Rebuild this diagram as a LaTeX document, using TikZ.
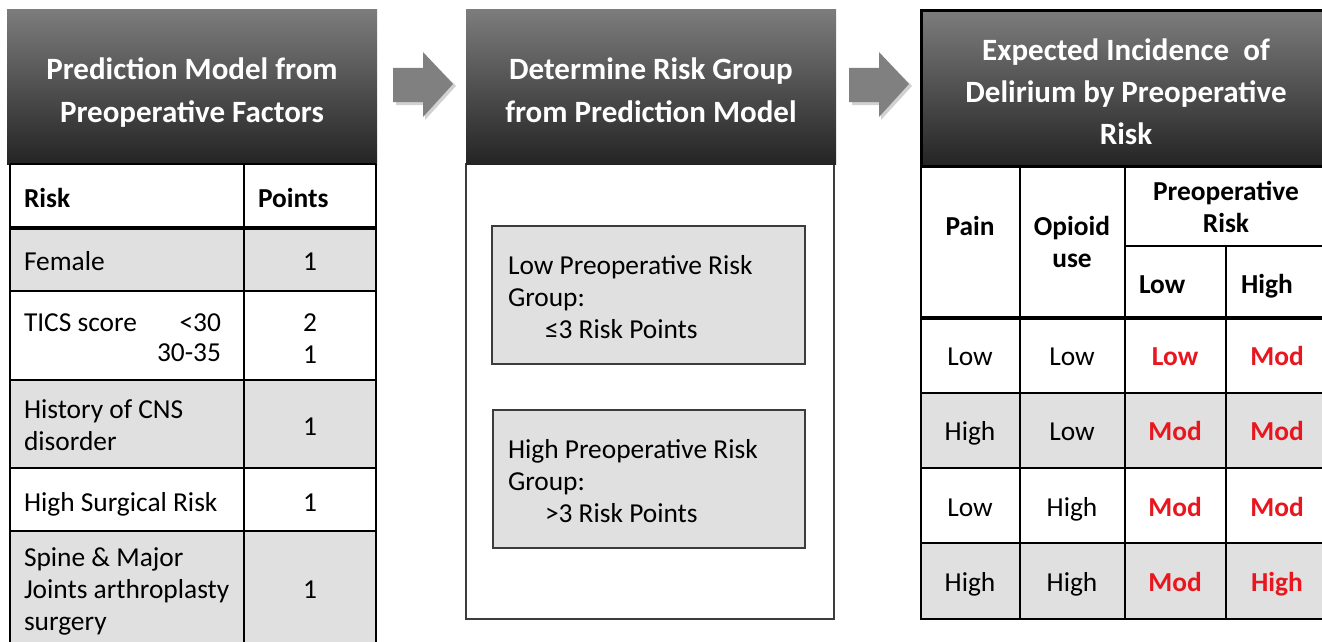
\documentclass[tikz,border=0pt]{standalone}
\usepackage{fontspec}
\setmainfont{Carlito}
\definecolor{hdtop}{RGB}{124,124,124}
\definecolor{hdbot}{RGB}{36,36,36}
\definecolor{cellgray}{RGB}{224,224,224}
\definecolor{riskred}{RGB}{232,22,30}
\definecolor{arrowgray}{RGB}{128,128,128}
\definecolor{boxline}{RGB}{60,60,60}
\newcommand\mytl[1]{\begin{tabular}[t]{@{}l@{}}#1\end{tabular}}
\newcommand\mytc[1]{\begin{tabular}[t]{@{}c@{}}#1\end{tabular}}
\begin{document}
\begin{tikzpicture}[x=1pt,y=-1pt,
  txt/.style={inner sep=0pt, outer sep=0pt, font=\fontsize{27.4}{32}\selectfont},
  btxt/.style={inner sep=0pt, outer sep=0pt, font=\fontsize{27.4}{32}\selectfont\bfseries},
  rtxt/.style={inner sep=0pt, outer sep=0pt, text=riskred, font=\fontsize{27.4}{32}\selectfont\bfseries},
  htxt/.style={inner sep=0pt, outer sep=0pt, text=white, font=\fontsize{31}{42.5}\selectfont\bfseries},
  hdrbox/.style={rectangle, inner sep=0pt, outer sep=0pt, top color=hdtop, bottom color=hdbot, draw=none},
  grpbox/.style={rectangle, inner sep=0pt, outer sep=0pt, fill=cellgray, draw=boxline, line width=1.5pt},
  gridline/.style={line width=2pt, black},
  thickline/.style={line width=4pt, black},
  flowarrow/.style={fill=arrowgray},
  arrowshadow/.style={fill=black, opacity=0.18},
]
\useasboundingbox (0,0) rectangle (1322,642);
\clip (0,0) rectangle (1322,642);
\fill[white] (0,0) rectangle (1322,642);

% ---------------- left panel ----------------
\node[hdrbox, minimum width=370pt, minimum height=154pt, anchor=north west] (hdrA) at (7,10) {};
\node[htxt, anchor=base] (hdrAtext) at (192,80) {\mytc{Prediction Model from\\Preoperative Factors}};

\fill[cellgray] (10,228) rectangle (376,291);
\fill[cellgray] (10,380) rectangle (376,468);
\fill[cellgray] (10,531) rectangle (376,660);
\draw[gridline] (10,164) -- (10,660);
\draw[gridline] (244,164) -- (244,660);
\draw[gridline] (376,164) -- (376,660);
\draw[gridline] (10,164) -- (376,164);
\draw[thickline] (10,228) -- (376,228);
\draw[gridline] (10,291) -- (376,291);
\draw[gridline] (10,380) -- (376,380);
\draw[gridline] (10,468) -- (376,468);
\draw[gridline] (10,531) -- (376,531);

\node[btxt, anchor=base west] (riskH) at (24,207) {Risk};
\node[btxt, anchor=base west] (pointsH) at (258,207) {Points};
\node[txt, anchor=base west] (female) at (24,270) {Female};
\node[txt, anchor=base] (femaleP) at (310,270) {1};
\node[txt, anchor=base west] (tics) at (24,331) {TICS score};
\node[txt, anchor=base east] (ticsA) at (221,331) {<30};
\node[txt, anchor=base east] (ticsB) at (221,361) {30-35};
\node[txt, anchor=base] (ticsP) at (310,331) {\mytc{2\\1}};
\node[txt, anchor=base west] (cns) at (24,418) {\mytl{History of CNS\\disorder}};
\node[txt, anchor=base] (cnsP) at (310,435) {1};
\node[txt, anchor=base west] (surg) at (24,511) {High Surgical Risk};
\node[txt, anchor=base] (surgP) at (310,511) {1};
\node[txt, anchor=base west] (spine) at (24,566) {\mytl{Spine \& Major\\Joints arthroplasty\\surgery}};
\node[txt, anchor=base] (spineP) at (310,598) {1};

% ---------------- arrows ----------------
\fill[arrowshadow] (396,71) -- (425,71) -- (425,55) -- (456,86) -- (425,120) -- (425,105) -- (396,105) -- cycle;
\fill[flowarrow] (393,68) -- (423,68) -- (423,52) -- (453,84) -- (423,117) -- (423,102) -- (393,102) -- cycle;
\fill[arrowshadow] (852,71) -- (881,71) -- (881,55) -- (912,86) -- (881,120) -- (881,105) -- (852,105) -- cycle;
\fill[flowarrow] (849,68) -- (879,68) -- (879,52) -- (909,84) -- (879,117) -- (879,102) -- (849,102) -- cycle;

% ---------------- middle panel ----------------
\node[rectangle, inner sep=0pt, outer sep=0pt, draw=boxline, line width=1.5pt, fill=white,
      minimum width=368pt, minimum height=455pt, anchor=north west] (bodyB) at (466,164) {};
\node[hdrbox, minimum width=370pt, minimum height=154pt, anchor=north west] (hdrB) at (466,10) {};
\node[htxt, anchor=base] (hdrBtext) at (651,80) {\mytc{Determine Risk Group\\from Prediction Model}};

\node[grpbox, minimum width=313pt, minimum height=138pt, anchor=north west] (lowbox) at (492,226) {};
\node[txt, anchor=base west] (lowtext) at (508,274) {\mytl{Low Preoperative Risk\\Group:\\\hspace{37pt}≤3 Risk Points}};
\node[grpbox, minimum width=312pt, minimum height=138pt, anchor=north west] (highbox) at (493,410) {};
\node[txt, anchor=base west] (hightext) at (508,458) {\mytl{High Preoperative Risk\\Group:\\\hspace{37pt}>3 Risk Points}};

% ---------------- right panel ----------------
\node[hdrbox, draw=black, line width=3pt, minimum width=414pt, minimum height=155pt, anchor=north west] (hdrC) at (921,11) {};
\node[htxt, anchor=base] (hdrCtext) at (1126,60) {\mytc{Expected Incidence\ \ of\\Delirium by Preoperative\\Risk}};

\fill[cellgray] (921,393) rectangle (1340,468);
\fill[cellgray] (921,543) rectangle (1340,619);
\draw[gridline] (921,167) -- (921,619);
\draw[gridline] (1020,167) -- (1020,619);
\draw[gridline] (1125,167) -- (1125,619);
\draw[gridline] (1226,246) -- (1226,619);
\draw[gridline] (1125,246) -- (1340,246);
\draw[thickline] (921,318) -- (1340,318);
\draw[gridline] (921,393) -- (1340,393);
\draw[gridline] (921,468) -- (1340,468);
\draw[gridline] (921,543) -- (1340,543);
\draw[gridline] (920,619) -- (1340,619);

\node[btxt, anchor=base] (painH) at (970,235) {Pain};
\node[btxt, anchor=base] (opioidH) at (1072,235) {\mytc{Opioid\\use}};
\node[btxt, anchor=base] (preopH) at (1226,200) {\mytc{Preoperative\\Risk}};
\node[btxt, anchor=base west] (lowH) at (1139,293) {Low};
\node[btxt, anchor=base west] (highH) at (1241,293) {High};

\node[txt, anchor=base] (p1) at (970,365) {Low};
\node[txt, anchor=base] (o1) at (1072,365) {Low};
\node[rtxt, anchor=base] (l1) at (1175,365) {Low};
\node[rtxt, anchor=base] (h1) at (1277,365) {Mod};

\node[txt, anchor=base] (p2) at (970,440) {High};
\node[txt, anchor=base] (o2) at (1072,440) {Low};
\node[rtxt, anchor=base] (l2) at (1175,440) {Mod};
\node[rtxt, anchor=base] (h2) at (1277,440) {Mod};

\node[txt, anchor=base] (p3) at (970,516) {Low};
\node[txt, anchor=base] (o3) at (1072,516) {High};
\node[rtxt, anchor=base] (l3) at (1175,516) {Mod};
\node[rtxt, anchor=base] (h3) at (1277,516) {Mod};

\node[txt, anchor=base] (p4) at (970,591) {High};
\node[txt, anchor=base] (o4) at (1072,591) {High};
\node[rtxt, anchor=base] (l4) at (1175,591) {Mod};
\node[rtxt, anchor=base] (h4) at (1277,591) {High};
\end{tikzpicture}
\end{document}
